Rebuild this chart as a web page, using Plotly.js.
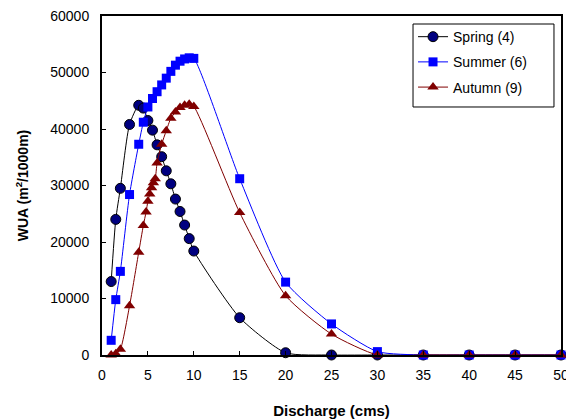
<!DOCTYPE html>
<html>
<head>
<meta charset="utf-8">
<script src="https://cdn.plot.ly/plotly-3.0.1.min.js"></script>
<style>html,body{margin:0;padding:0;background:#fff;}#chart{width:566px;height:419px;}</style>
</head>
<body>
<div id="chart"></div>
<script>
// Spring (4)
const springX = [1, 1.5, 2, 3, 4, 4.5, 5, 5.5, 6, 6.5, 7, 7.5, 8, 8.5, 9, 9.5, 10, 15, 20, 25, 30, 35, 40, 45, 50];
const springY = [13000, 24000, 29500, 40800, 44200, 43700, 41500, 39800, 37200, 35100, 32600, 30300, 27600, 25400, 23000, 20600, 18400, 6600, 400, 0, 0, 0, 0, 0, 0];
// Summer (6)
const summerX = [1, 1.5, 2, 3, 4, 4.5, 5, 5.5, 6, 6.5, 7, 7.5, 8, 8.5, 9, 9.5, 10, 15, 20, 25, 30, 35, 40, 45, 50];
const summerY = [2600, 9800, 14800, 28400, 37300, 41200, 43900, 45400, 46600, 47800, 49000, 50200, 51300, 52000, 52400, 52600, 52500, 31200, 12900, 5500, 600, 0, 0, 0, 0];
// Autumn (9)
const autumnX = [1, 1.5, 2, 3, 4, 4.5, 4.8, 5, 5.2, 5.4, 5.6, 5.8, 6, 6.5, 7, 7.5, 8, 8.5, 9, 9.5, 10, 15, 20, 25, 30, 35, 40, 45, 50];
const autumnY = [0, 200, 1000, 8700, 18200, 22900, 25300, 27200, 28500, 29600, 30500, 31200, 34000, 37300, 39700, 41900, 43000, 43800, 44200, 44400, 44000, 25200, 10500, 3700, 0, 0, 0, 0, 0];

const seriesNames = ['Spring (4)', 'Summer (6)', 'Autumn (9)'];
const xTicks = [0, 5, 10, 15, 20, 25, 30, 35, 40, 45, 50];
const yTicks = [0, 10000, 20000, 30000, 40000, 50000, 60000];

const FONT = 'Arial, "Liberation Sans", sans-serif';

const traces = [
  {
    x: springX, y: springY, name: seriesNames[0], type: 'scatter', mode: 'lines+markers',
    legendgroup: 'a',
    line: {color: '#000000', width: 1, shape: 'spline', smoothing: 0.6},
    marker: {symbol: 'circle', size: 10, color: '#000080', line: {color: '#000000', width: 1}},
    cliponaxis: false
  },
  {
    x: summerX, y: summerY, name: seriesNames[1], type: 'scatter', mode: 'lines+markers',
    legendgroup: 'b',
    line: {color: '#0000FF', width: 1, shape: 'spline', smoothing: 0.6},
    marker: {symbol: 'square', size: 9, color: '#0000FF', line: {color: '#0000FF', width: 0}},
    cliponaxis: false
  },
  {
    x: autumnX, y: autumnY, name: seriesNames[2], type: 'scatter', mode: 'lines+markers',
    legendgroup: 'c',
    line: {color: '#800000', width: 1, shape: 'spline', smoothing: 0.6},
    marker: {symbol: 'triangle-up', size: 10, color: '#800000', line: {color: '#800000', width: 0}},
    cliponaxis: false
  }
];

const layout = {
  width: 566, height: 419,
  margin: {l: 102, r: 5, t: 16, b: 64, pad: 0},
  paper_bgcolor: '#ffffff', plot_bgcolor: '#ffffff',
  font: {family: FONT, size: 13, color: '#000000'},
  showlegend: true,
  legend: {
    x: 0.6776, y: 0.985, xanchor: 'left', yanchor: 'top',
    bgcolor: 'rgba(0,0,0,0)', bordercolor: '#000000', borderwidth: 0,
    font: {family: FONT, size: 14, color: '#000000'},
    tracegroupgap: 4
  },
  shapes: [{
    type: 'rect', xref: 'paper', yref: 'paper',
    x0: 0.6776, x1: 0.9847, y0: 0.7316, y1: 0.9764,
    line: {color: '#000000', width: 1}, fillcolor: 'rgba(0,0,0,0)', layer: 'above'
  }],
  xaxis: {
    range: [0, 50], tickvals: xTicks, ticktext: xTicks.map(String),
    ticks: 'inside', ticklen: 4, tickcolor: '#000', tickwidth: 1,
    showline: true, linecolor: '#000', linewidth: 2, mirror: true,
    showgrid: false, zeroline: false,
    ticklabeloverflow: 'allow',
    ticklabelstandoff: 6,
    tickfont: {family: FONT, size: 14},
    title: {text: 'Discharge (cms)', font: {family: FONT, size: 15, weight: 'bold'}, standoff: 26}
  },
  yaxis: {
    range: [0, 60000], tickvals: yTicks, ticktext: yTicks.map(String),
    ticks: 'inside', ticklen: 4, tickcolor: '#000', tickwidth: 1,
    showline: true, linecolor: '#000', linewidth: 2, mirror: true,
    showgrid: false, zeroline: false,
    tickfont: {family: FONT, size: 14},
    ticklabelstandoff: 8,
    title: {text: 'WUA (m<sup>2</sup>/1000m)', font: {family: FONT, size: 14, weight: 'bold'}, standoff: 18}
  }
};

Plotly.newPlot('chart', traces, layout, {displayModeBar: false, staticPlot: true});
</script>
</body>
</html>
